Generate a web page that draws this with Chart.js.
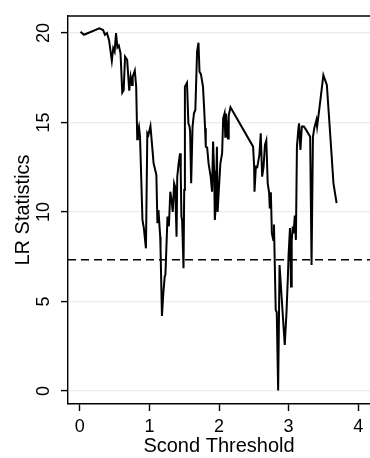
<!DOCTYPE html>
<html>
<head>
<meta charset="utf-8">
<script src="https://cdn.jsdelivr.net/npm/chart.js@4.4.1/dist/chart.umd.min.js"></script>
<style>
  html, body { margin: 0; padding: 0; background: #fff; }
  canvas { display: block; }
</style>
</head>
<body>
<canvas id="lr" width="370" height="458"></canvas>
<script>
// Threshold grid (x) and LR statistic (y)
const thresholds = [
  0.01, 0.06, 0.28, 0.335, 0.36, 0.39, 0.42, 0.46, 0.48, 0.50,
  0.52, 0.54, 0.56, 0.585, 0.61, 0.63, 0.65, 0.68, 0.71, 0.73,
  0.75, 0.76, 0.79, 0.81, 0.825, 0.835, 0.85, 0.865, 0.90, 0.92,
  0.95, 0.97, 0.985, 1.015, 1.04, 1.06, 1.08, 1.10, 1.115, 1.13,
  1.155, 1.16, 1.18, 1.20, 1.22, 1.23, 1.26, 1.28, 1.30, 1.32,
  1.335, 1.355, 1.37, 1.39, 1.40, 1.42, 1.44, 1.45, 1.46, 1.47,
  1.49, 1.50, 1.51, 1.54, 1.56, 1.575, 1.585, 1.60, 1.62, 1.64,
  1.66, 1.685, 1.705, 1.72, 1.74, 1.77, 1.785, 1.80, 1.81, 1.83,
  1.85, 1.88, 1.90, 1.915, 1.93, 1.94, 1.955, 1.97, 1.98, 2.00,
  2.02, 2.045, 2.06, 2.08, 2.09, 2.10, 2.13, 2.14, 2.165, 2.49,
  2.505, 2.51, 2.53, 2.55, 2.58, 2.60, 2.62, 2.64, 2.66, 2.68,
  2.70, 2.72, 2.73, 2.745, 2.76, 2.78, 2.79, 2.80, 2.815, 2.83,
  2.85, 2.87, 2.89, 2.945, 2.97, 2.99, 3.00, 3.02, 3.035, 3.045,
  3.06, 3.07, 3.09, 3.105, 3.12, 3.14, 3.15, 3.17, 3.19, 3.22,
  3.25, 3.31, 3.33, 3.35, 3.37, 3.40, 3.41, 3.44, 3.50, 3.55,
  3.61, 3.645, 3.69
];
const lrStats = [
  20.07, 19.9, 20.26, 20.17, 19.9, 20.0, 19.6, 18.45, 19.15, 18.96,
  20.0, 19.2, 19.3, 18.86, 16.67, 16.8, 18.68, 18.5, 16.78, 17.56,
  17.1, 17.56, 17.9, 17.0, 14.06, 14.5, 14.77, 14.2, 9.55, 9.1,
  7.97, 14.4, 14.3, 14.8, 13.65, 12.72, 12.4, 12.07, 9.37, 10.1,
  8.62, 7.9, 4.19, 5.46, 6.39, 6.5, 9.74, 9.2, 11.13, 10.6,
  10.0, 11.6, 11.4, 8.62, 11.97, 12.72, 13.28, 12.2, 9.74, 9.55,
  6.85, 11.23, 17.0, 17.22, 14.95, 14.8, 14.5, 11.6, 14.77, 15.51,
  15.7, 18.96, 19.46, 17.84, 17.7, 17.0, 15.9, 14.68, 13.65, 13.6,
  12.72, 11.97, 11.13, 13.93, 12.3, 9.55, 10.4, 13.65, 10.0, 11.4,
  12.72, 13.28, 15.23, 15.51, 14.2, 15.5, 14.1, 15.4, 15.85, 13.65,
  12.53, 11.13, 12.53, 12.5, 13.18, 14.4, 11.97, 12.5, 13.74, 14.0,
  11.6, 11.1, 10.2, 11.1, 8.81, 8.44, 9.3, 7.41, 4.52, 4.4,
  0.02, 7.04, 5.83, 2.57, 4.4, 6.39, 7.6, 9.1, 5.83, 8.4,
  9.18, 8.8, 9.8, 8.44, 13.65, 14.6, 14.95, 13.46, 14.77, 14.77,
  14.6, 14.2, 7.04, 14.2, 14.7, 15.14, 14.77, 15.7, 17.65, 17.1,
  13.65, 11.6, 10.49
];

// Critical value (dashed line) and axis settings
const criticalValue = 7.33;
const xRange = [-0.17, 4.17];
const yRange = [-0.73, 20.95];
const xTicks = [0, 1, 2, 3, 4];
const yTicks = [0, 5, 10, 15, 20];

const FONT = "'Liberation Sans', Arial, sans-serif";

// Stata-ish frame: top border and rotated y tick labels
const stataFrame = {
  id: 'stataFrame',
  afterDraw(chart) {
    const { ctx, chartArea, scales } = chart;
    ctx.save();
    ctx.strokeStyle = '#000';
    ctx.lineWidth = 1.4;
    ctx.beginPath();
    ctx.moveTo(chartArea.left, chartArea.top);
    ctx.lineTo(chart.width, chartArea.top);
    ctx.stroke();

    ctx.fillStyle = '#000';
    ctx.font = '18px ' + FONT;
    ctx.textAlign = 'center';
    ctx.textBaseline = 'middle';
    yTicks.forEach(v => {
      const y = scales.y.getPixelForValue(v);
      ctx.save();
      ctx.translate(44, y);
      ctx.rotate(-Math.PI / 2);
      ctx.fillText(String(v), 0, 0);
      ctx.restore();
    });
    ctx.restore();
  }
};

new Chart(document.getElementById('lr'), {
  type: 'line',
  data: {
    datasets: [
      {
        data: thresholds.map((t, i) => ({ x: t, y: lrStats[i] })),
        borderColor: '#000',
        borderWidth: 2,
        pointRadius: 0,
        tension: 0,
        fill: false
      },
      {
        data: xRange.map(x => ({ x: x, y: criticalValue })),
        borderColor: '#000',
        borderWidth: 1.7,
        borderDash: [8, 5],
        pointRadius: 0,
        fill: false
      }
    ]
  },
  options: {
    responsive: false,
    animation: false,
    layout: { padding: { top: 16, right: 0, left: 0, bottom: 0 } },
    plugins: { legend: { display: false }, tooltip: { enabled: false } },
    scales: {
      x: {
        type: 'linear',
        min: xRange[0],
        max: xRange[1],
        afterBuildTicks: s => { s.ticks = xTicks.map(v => ({ value: v })); },
        afterFit: s => { s.height = 54; },
        grid: { drawOnChartArea: false, tickLength: 7, tickColor: '#000', tickWidth: 1.4 },
        border: { color: '#000', width: 1.4 },
        ticks: { color: '#000', font: { family: FONT, size: 18 }, padding: 5, maxRotation: 0 },
        title: {
          display: true,
          text: 'Scond Threshold',
          color: '#000',
          font: { family: FONT, size: 20 },
          padding: { top: 0, bottom: 0 }
        }
      },
      y: {
        type: 'linear',
        min: yRange[0],
        max: yRange[1],
        afterBuildTicks: s => { s.ticks = yTicks.map(v => ({ value: v })); },
        afterFit: s => { s.width = 68; },
        grid: { color: '#e6eef0', lineWidth: 1.2, tickLength: 7, tickColor: '#000', tickWidth: 1.4 },
        border: { color: '#000', width: 1.4 },
        ticks: { display: false },
        title: {
          display: true,
          text: 'LR Statistics',
          color: '#000',
          font: { family: FONT, size: 20 },
          padding: { top: 11, bottom: 0 }
        }
      }
    }
  },
  plugins: [stataFrame]
});
</script>
</body>
</html>
